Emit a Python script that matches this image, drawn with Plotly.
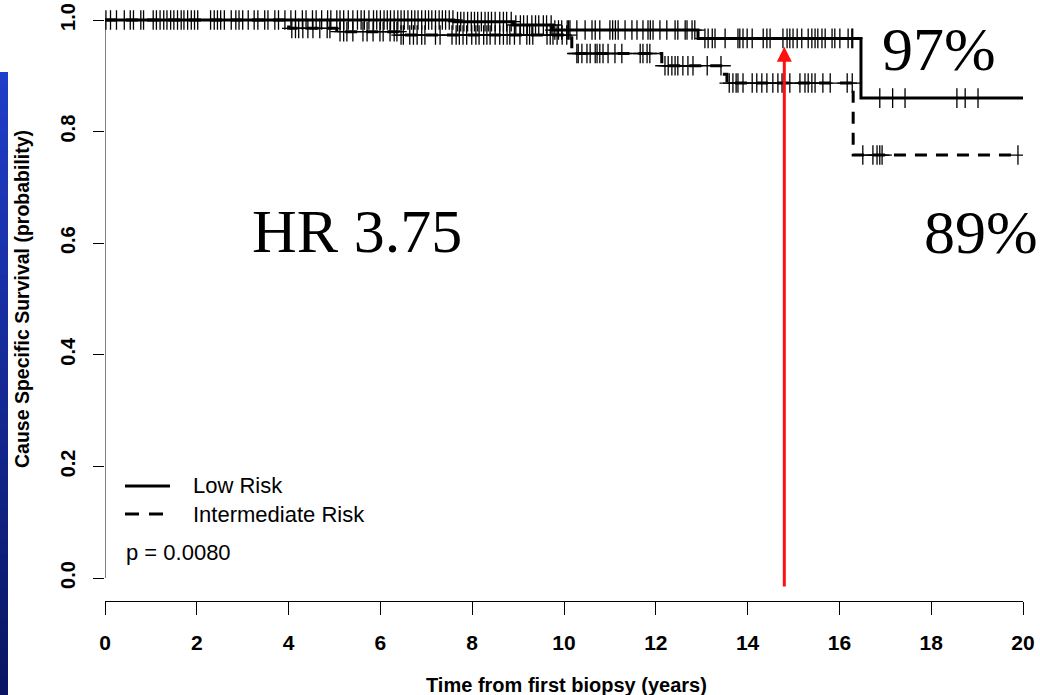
import numpy as np
import plotly.graph_objects as go

# ---------------- data ----------------
x_ticks = [0, 2, 4, 6, 8, 10, 12, 14, 16, 18, 20]
y_ticks = [0.0, 0.2, 0.4, 0.6, 0.8, 1.0]
y_ticklabels = ["0.0", "0.2", "0.4", "0.6", "0.8", "1.0"]

# Kaplan-Meier step curves (time in years, survival probability)
low_times = [0, 7.6, 8.9, 9.75, 12.92, 16.47, 20.0]
low_surv = [1.0, 0.997, 0.991, 0.982, 0.967, 0.860, 0.860]

int_times = [0, 4.0, 5.05, 6.4, 10.17, 12.13, 13.45, 13.55, 16.3, 19.9]
int_surv = [1.0, 0.985, 0.979, 0.973, 0.940, 0.918, 0.903, 0.887, 0.758, 0.758]

# censoring times
low_censor = [
    0.02, 0.12, 0.25, 0.42, 0.55, 0.62, 0.78, 0.84, 1.05, 1.12, 1.2, 1.28, 1.35, 1.43,
    1.5, 1.58, 1.66, 1.72, 1.8, 1.88, 1.95, 2.02, 2.3, 2.38, 2.45, 2.52, 2.6, 2.75, 2.85,
    2.92, 3.0, 3.12, 3.25, 3.33, 3.48, 3.55, 3.7, 3.78, 3.92, 4.05, 4.15, 4.3, 4.38, 4.52,
    4.6, 4.72, 4.85, 4.92, 5.05, 5.12, 5.2, 5.3, 5.4, 5.5, 5.58, 5.65, 5.75, 5.85, 5.92,
    6.0, 6.08, 6.15, 6.22, 6.3, 6.38, 6.45, 6.52, 6.6, 6.68, 6.75, 6.82, 6.9, 6.98, 7.05,
    7.12, 7.2, 7.28, 7.35, 7.42, 7.5, 7.58, 7.68, 7.75, 7.82, 7.9, 7.98, 8.05, 8.12, 8.2,
    8.28, 8.35, 8.42, 8.5, 8.6, 8.68, 8.75, 8.85, 8.95, 9.05, 9.12, 9.2, 9.3, 9.38, 9.45,
    9.55, 9.62, 9.72, 9.8, 9.88, 9.95,
    10.07, 10.1, 10.13, 10.28, 10.46, 10.61, 10.68, 10.78, 11.0, 11.06, 11.12, 11.18,
    11.33, 11.48, 11.59, 11.72, 11.83, 11.88, 11.94, 12.09, 12.24, 12.42, 12.48, 12.64,
    12.68, 12.79, 12.85,
    13.07, 13.14, 13.23, 13.29, 13.51, 13.79, 13.83, 13.9, 13.99, 14.1, 14.34, 14.42,
    14.49, 14.77, 14.86, 14.92, 14.99, 15.08, 15.18, 15.32, 15.4, 15.47, 15.53, 15.62,
    15.69, 15.84, 15.9, 16.01, 16.19, 16.27, 16.29,
    16.88, 17.16, 17.43, 18.56, 18.74, 19.02,
]
int_censor = [
    4.07, 4.15, 4.22, 4.31, 4.42, 4.53, 4.68, 4.84, 4.9, 5.12, 5.2, 5.27, 5.4, 5.62, 5.71,
    5.84, 5.99, 6.06, 6.21, 6.3, 6.36,
    6.45, 6.5, 6.64, 6.72, 6.8, 6.9, 6.97, 7.2, 7.3, 7.56, 7.65, 7.72, 7.8, 7.88, 7.99,
    8.08, 8.15, 8.25, 8.32, 8.39, 8.5, 8.6, 8.68, 8.76, 8.82, 8.92, 9.04, 9.19, 9.25,
    9.32, 9.63, 9.7, 9.76, 9.85, 9.96, 10.06,
    10.28, 10.31, 10.39, 10.5, 10.57, 10.68, 10.72, 10.78, 10.85, 10.96, 11.11, 11.26,
    11.66, 11.72, 11.81, 11.87,
    12.2, 12.27, 12.35, 12.42, 12.48, 12.59, 12.7, 12.81, 13.12, 13.42,
    13.6, 13.68, 13.75, 13.79, 13.9, 14.1, 14.2, 14.31, 14.42, 14.55, 14.66, 14.75,
    14.92, 15.14, 15.25, 15.32, 15.4, 15.47, 15.64, 15.8, 16.17, 16.28,
    16.51, 16.73, 16.82, 16.88, 16.93, 19.89,
]

series_names = ["Low Risk", "Intermediate Risk"]
p_value_text = "p = 0.0080"
hr_text = "HR 3.75"
low_pct_text = "97%"
int_pct_text = "89%"
arrow_time = 14.8
arrow_from = -0.018
arrow_to = 0.952

# ---------------- layout helpers ----------------
W, H = 1040, 695
L, R, T, B = 105, 17, 0, 94
PW, PH = W - L - R, H - T - B


def xp(px):
    return (px - L) / PW


def yp(py):
    return (H - B - py) / PH


def step_value(times, surv, t):
    idx = np.searchsorted(np.array(times), np.array(t), side="right") - 1
    return np.array(surv)[idx]


SANS = "Liberation Sans, Arial, sans-serif"
SERIF = "Liberation Serif, Times New Roman, serif"

fig = go.Figure()

# curves
fig.add_trace(go.Scatter(x=low_times, y=low_surv, mode="lines", line_shape="hv",
                         line=dict(color="black", width=3), name=series_names[0],
                         showlegend=False, hoverinfo="skip"))
fig.add_trace(go.Scatter(x=int_times, y=int_surv, mode="lines", line_shape="hv",
                         line=dict(color="black", width=3, dash="12px,9px"),
                         name=series_names[1], showlegend=False, hoverinfo="skip"))

# censor marks
for cens, times, surv in [(low_censor, low_times, low_surv), (int_censor, int_times, int_surv)]:
    fig.add_trace(go.Scatter(x=cens, y=step_value(times, surv, cens), mode="markers",
                             marker=dict(symbol="cross-thin", size=14, color="black",
                                         line=dict(width=1.3, color="black")),
                             showlegend=False, hoverinfo="skip"))

shapes = []
# y axis line (0..1 only, R style)
shapes.append(dict(type="line", xref="x", yref="y", x0=0, x1=0, y0=0, y1=1,
                   line=dict(color="black", width=1)))

# blue side bar (gradient)
n = 40
top_c = np.array([32, 62, 200])
bot_c = np.array([10, 22, 100])
y_top, y_bot = 72, 695
for i in range(n):
    f = i / (n - 1)
    c = (top_c * (1 - f) + bot_c * f).astype(int)
    y0 = y_top + (y_bot - y_top) * i / n
    y1 = y_top + (y_bot - y_top) * (i + 1) / n + 0.8
    shapes.append(dict(type="rect", xref="paper", yref="paper",
                       x0=xp(0), x1=xp(8), y0=yp(min(y1, 695)), y1=yp(y0),
                       fillcolor=f"rgb({c[0]},{c[1]},{c[2]})", line=dict(width=0),
                       layer="above"))

# legend lines
shapes.append(dict(type="line", xref="paper", yref="paper", x0=xp(125), x1=xp(170),
                   y0=yp(486), y1=yp(486), line=dict(color="black", width=3)))
shapes.append(dict(type="line", xref="paper", yref="paper", x0=xp(125), x1=xp(170),
                   y0=yp(514), y1=yp(514), line=dict(color="black", width=3, dash="14px,10px")))

annotations = [
    dict(text=series_names[0], x=xp(191), y=yp(486), xref="paper", yref="paper",
         xanchor="left", yanchor="middle", showarrow=False,
         font=dict(family=SANS, size=22, color="black")),
    dict(text=series_names[1], x=xp(191), y=yp(514), xref="paper", yref="paper",
         xanchor="left", yanchor="middle", showarrow=False,
         font=dict(family=SANS, size=22, color="black")),
    dict(text=p_value_text, x=xp(124), y=yp(552), xref="paper", yref="paper",
         xanchor="left", yanchor="middle", showarrow=False,
         font=dict(family=SANS, size=22, color="black")),
    dict(text=hr_text, x=xp(357), y=yp(231), xref="paper", yref="paper",
         xanchor="center", yanchor="middle", showarrow=False,
         font=dict(family=SERIF, size=62, color="black")),
    dict(text=low_pct_text, x=xp(939), y=yp(49), xref="paper", yref="paper",
         xanchor="center", yanchor="middle", showarrow=False,
         font=dict(family=SERIF, size=62, color="black")),
    dict(text=int_pct_text, x=xp(981), y=yp(232), xref="paper", yref="paper",
         xanchor="center", yanchor="middle", showarrow=False,
         font=dict(family=SERIF, size=62, color="black")),
    # axis titles
    dict(text="Time from first biopsy (years)", x=xp(566), y=yp(685), xref="paper",
         yref="paper", xanchor="center", yanchor="middle", showarrow=False,
         font=dict(family=SANS, size=20, color="black", weight="bold")),
    dict(text="Cause Specific Survival (probability)", x=xp(22), y=yp(299), xref="paper",
         yref="paper", xanchor="center", yanchor="middle", showarrow=False, textangle=-90,
         font=dict(family=SANS, size=19.5, color="black", weight="bold")),
    # red arrow
    dict(text="", x=arrow_time, y=arrow_to, ax=arrow_time, ay=arrow_from,
         xref="x", yref="y", axref="x", ayref="y", showarrow=True,
         arrowhead=2, arrowsize=1, arrowwidth=3, arrowcolor="#ff1010"),
]

fig.update_layout(
    width=W, height=H,
    margin=dict(l=L, r=R, t=T, b=B, pad=0),
    paper_bgcolor="white", plot_bgcolor="white",
    shapes=shapes, annotations=annotations,
    showlegend=False,
    xaxis=dict(range=[0, 20], tickvals=x_ticks, ticks="outside", ticklen=13,
               tickwidth=1, tickcolor="black", showline=True, linecolor="black",
               linewidth=1, showgrid=False, zeroline=False, ticklabelstandoff=10,
               tickfont=dict(family=SANS, size=21, color="black", weight="bold")),
    yaxis=dict(range=[-(H - B - T - 578) / 558, 1 + 20 / 558], tickvals=y_ticks,
               ticktext=y_ticklabels, ticks="outside", ticklen=11, tickwidth=1,
               tickcolor="black", showline=False, showgrid=False, zeroline=False,
               tickangle=-90, ticklabelstandoff=10,
               tickfont=dict(family=SANS, size=20, color="black", weight="bold")),
)

fig.write_html("out.html")
